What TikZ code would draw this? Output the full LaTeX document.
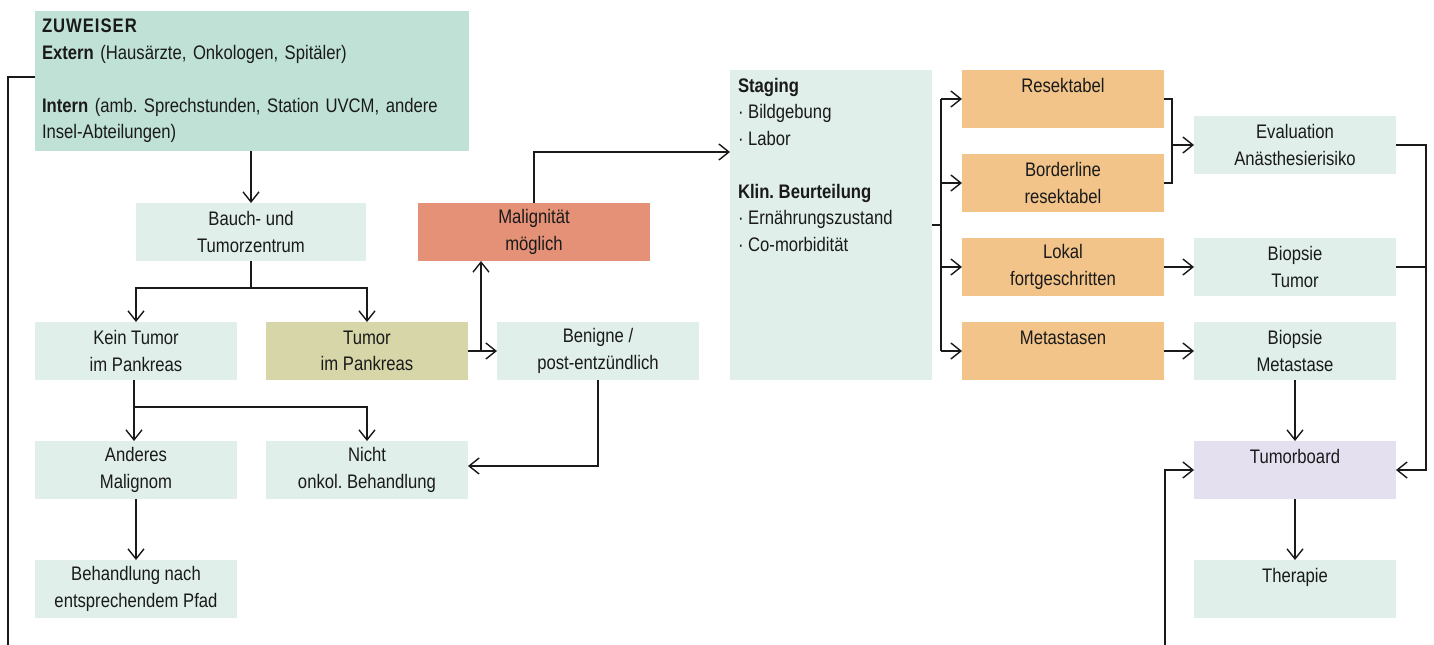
\documentclass[tikz,border=0pt]{standalone}
\usepackage{fontspec}
\setmainfont{Liberation Sans}[FakeStretch=0.85]
\usepackage{xcolor}
\usetikzlibrary{arrows.meta,positioning}

\definecolor{mint}{HTML}{C0E1D6}
\definecolor{hellmint}{HTML}{E0EFEA}
\definecolor{lachs}{HTML}{E59177}
\definecolor{oliv}{HTML}{D6D6A8}
\definecolor{orange}{HTML}{F2C48A}
\definecolor{lavendel}{HTML}{E5E0F0}
\definecolor{strich}{HTML}{1A1A1A}

\begin{document}
\frenchspacing
\begin{tikzpicture}[
    x=0.5pt, y=-0.5pt,
    node distance=30.5pt and 14.5pt,
    font=\fontsize{9.8pt}{13.25pt}\selectfont,
    every node/.style={text=strich, outer sep=0pt},
    kasten/.style={align=center, minimum height=29pt, minimum width=101pt,
        inner sep=0pt, fill=hellmint},
    stufe/.style={kasten, fill=orange},
    pfeil/.style={-{Straight Barb[length=5pt,width=8pt]}, draw=strich, line width=0.7pt},
    linie/.style={draw=strich, line width=0.7pt}
]
    \useasboundingbox (0,0) rectangle (1434,644);

    % linke Seite
    \node[anchor=north west, fill=mint, align=left, text width=210pt,
        minimum height=70pt, inner xsep=3.5pt, inner ysep=0pt] (zuweiser) at (35,11)
        {{\addfontfeatures{LetterSpace=5}\textbf{ZUWEISER}}\\
         \textbf{Extern} (Hausärzte, Onkologen, Spitäler)\\[13.25pt]
         \textbf{Intern} (amb. Sprechstunden, Station UVCM, andere\\
         Insel-Abteilungen)};
    \node[kasten, minimum width=115pt] (bauch) at (251,232) {Bauch- und\\Tumorzentrum};
    \node[kasten, fill=lachs, minimum width=116pt] (malign) at (534,232) {Malignität\\möglich};
    \node[kasten, anchor=north west] (kein) at (35,322) {Kein Tumor\\im Pankreas};
    \node[kasten, fill=oliv, right=of kein] (tumor) {Tumor\\im Pankreas};
    \node[kasten, right=of tumor] (benigne) {Benigne /\\post-entzündlich};
    \node[kasten, below=of kein] (anderes) {Anderes\\Malignom};
    \node[kasten, below=of tumor] (nicht) {Nicht\\onkol. Behandlung};
    \node[kasten, below=of anderes] (pfad) {Behandlung nach\\entsprechendem Pfad};

    % Staging
    \node[anchor=north west, fill=hellmint, inner xsep=4pt, inner ysep=4pt] (staging) at (730,70)
        {\parbox[c][147pt][t]{93pt}{\raggedright
         \textbf{Staging}\\
         · Bildgebung\\
         · Labor\\[13.25pt]
         \textbf{Klin. Beurteilung}\\
         · Ernährungszustand\\
         · Co-morbidität}};

    \node[stufe, anchor=north west] (resekt) at (962,70) {Resektabel\\\mbox{}};
    \node[stufe, below=13pt of resekt] (border) {Borderline\\resektabel};
    \node[stufe, below=13pt of border] (lokal) {Lokal\\fortgeschritten};
    \node[stufe, below=13pt of lokal] (meta) {Metastasen\\\mbox{}};

    \node[kasten] (eval) at (1295,145) {Evaluation\\Anästhesierisiko};
    \node[kasten, right=15pt of lokal] (biotumor) {Biopsie\\Tumor};
    \node[kasten, right=15pt of meta] (biometa) {Biopsie\\Metastase};
    \node[kasten, fill=lavendel, below=of biometa] (board) {Tumorboard\\\mbox{}};
    \node[kasten, below=of board] (therapie) {Therapie\\\mbox{}};

    % Verbindungen links
    \draw[pfeil] (zuweiser.south -| bauch.north) -- (bauch.north);
    \draw[pfeil] (bauch.south) -- ++(0,27) -| (kein.north);
    \draw[pfeil] (bauch.south) -- ++(0,27) -| (tumor.north);
    \draw[pfeil] ([xshift=-1pt]kein.south) -- ([xshift=-1pt]anderes.north);
    \draw[pfeil] ([xshift=-1pt]kein.south) ++(0,27) -| (nicht.north);
    \draw[pfeil] (anderes) -- (pfad);
    \draw[pfeil] (tumor) -- (benigne);
    \path (tumor.east) ++(13,0) coordinate (gabel);
    \draw[pfeil] (gabel) -- (gabel |- malign.south);
    \draw[pfeil] (malign.north) |- ([yshift=-41pt]staging.north west);
    \draw[pfeil] (benigne.south) |- ([yshift=2pt]nicht.east);

    % Staging-Verzweigung
    \path (staging.east) ++(9,0) coordinate (sv);
    \draw[linie] (staging.east) -- (sv);
    \draw[linie] (sv |- resekt.west) -- (sv |- meta.west);
    \foreach \z in {resekt,border,lokal,meta}
        \draw[pfeil] (sv |- \z.west) -- (\z.west);

    % rechte Seite
    \path (resekt.east) ++(8,0) coordinate (kl);
    \draw[linie] (resekt.east) -| (kl |- border.east) -- (border.east);
    \draw[pfeil] (kl |- eval.west) -- (eval.west);
    \draw[pfeil] (lokal) -- (biotumor);
    \draw[pfeil] (meta) -- (biometa);
    \path (eval.east) ++(30,0) coordinate (rv);
    \draw[pfeil] (eval.east) -- (rv) |- (board.east);
    \draw[linie] (biotumor.east) -- (rv |- biotumor.east);
    \draw[pfeil] (biometa) -- (board);
    \draw[pfeil] (board) -- (therapie);

    % Rueckweg unten
    \draw[pfeil] ([yshift=2pt]zuweiser.west) -| (8,690) -| ([xshift=-14.5pt]board.west) -- (board.west);
\end{tikzpicture}
\end{document}
